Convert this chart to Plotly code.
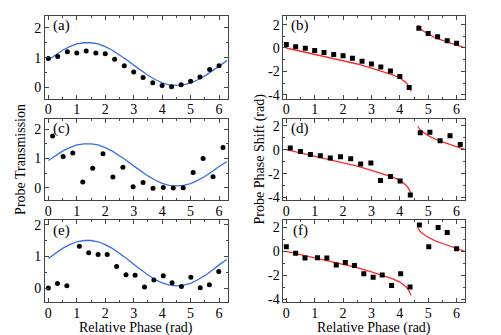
import plotly.graph_objects as go

# ---- data ----
a_x = [0, 0.33, 0.67, 1.0, 1.33, 1.67, 2.0, 2.33, 2.67, 3.0, 3.33, 3.67, 4.0, 4.33, 4.67, 5.0, 5.33, 5.67, 6.0]
a_y = [0.97, 1.04, 1.2, 1.16, 1.22, 1.16, 1.13, 0.95, 0.73, 0.52, 0.34, 0.16, 0.07, 0.03, 0.09, 0.21, 0.35, 0.6, 0.73]

b_x = [0, 0.33, 0.67, 1.0, 1.33, 1.67, 2.0, 2.33, 2.67, 3.0, 3.33, 3.67, 4.0, 4.33, 4.67, 5.0, 5.33, 5.67, 6.0]
b_y = [0.3, 0.11, -0.03, -0.22, -0.39, -0.55, -0.66, -0.88, -1.13, -1.38, -1.63, -1.96, -2.43, -3.39, 1.68, 1.24, 0.97, 0.61, 0.41]

c_x = [0.15, 0.52, 0.86, 1.21, 1.56, 1.92, 2.27, 2.62, 2.98, 3.33, 3.68, 4.04, 4.39, 4.74, 5.09, 5.44, 5.79, 6.14]
c_y = [1.76, 1.07, 1.19, 0.2, 0.67, 1.16, 0.37, 0.7, 0.04, 0.19, -0.01, 0.02, 0.0, 0.01, 0.53, 1.0, 0.38, 1.37]

d_x = [0.14, 0.5, 0.85, 1.2, 1.55, 1.91, 2.27, 2.62, 2.98, 3.32, 3.67, 4.01, 4.37, 4.72, 5.06, 5.42, 5.77, 6.13]
d_y = [0.15, -0.14, -0.4, -0.51, -0.7, -0.59, -0.76, -1.19, -1.11, -2.57, -2.24, -2.62, -3.78, 1.43, 1.46, 0.76, 1.16, 0.43]

e_x = [0, 0.32, 0.65, 1.09, 1.42, 1.75, 2.07, 2.4, 2.73, 3.05, 3.38, 3.71, 4.04, 4.35, 4.68, 5.01, 5.34, 5.66, 5.99]
e_y = [0, 0.14, 0.07, 1.32, 1.11, 1.06, 1.06, 0.68, 0.42, 0.4, 0.03, 0.25, 0.39, 0.17, 0.05, 0.34, 0.01, 0.1, 0.52]

f_x = [0, 0.33, 0.66, 1.1, 1.43, 1.76, 2.08, 2.4, 2.73, 3.06, 3.38, 3.71, 4.03, 4.36, 4.69, 5.02, 5.35, 5.67, 6.0]
f_y = [0.38, -0.16, -0.56, -0.54, -0.56, -1.15, -0.94, -1.18, -1.88, -2.17, -1.98, -2.87, -1.88, -2.98, 2.2, 0.38, 2.01, 1.58, 0.21]

# theory curves
trans_x = [0, 0.25, 0.5, 0.75, 1.0, 1.25, 1.5, 1.75, 2.0, 2.25, 2.5, 2.75, 3.0, 3.25,
           3.5, 3.75, 4.0, 4.25, 4.5, 4.75, 5.0, 5.25, 5.5, 5.75, 6.0, 6.28]
trans_y = [0.93, 1.10, 1.25, 1.37, 1.46, 1.50, 1.50, 1.46, 1.37, 1.25, 1.10, 0.93, 0.75, 0.57,
           0.41, 0.27, 0.16, 0.09, 0.07, 0.09, 0.15, 0.26, 0.39, 0.55, 0.73, 0.90]

phase_x = [0, 0.5, 1.0, 1.5, 2.0, 2.5, 3.0, 3.25, 3.5, 3.75, 4.0, 4.1, 4.2, 4.3, 4.4, None,
           4.63, 4.75, 5.0, 5.25, 5.5, 5.75, 6.0, 6.28]
phase_y = [0, -0.27, -0.53, -0.8, -1.07, -1.37, -1.72, -1.9, -2.08, -2.3, -2.57, -2.72, -2.92, -3.2, -3.7, None,
           1.95, 1.58, 1.18, 0.88, 0.66, 0.45, 0.26, 0.03]

panels = [
    ("a", a_x, a_y, "left"), ("b", b_x, b_y, "right"),
    ("c", c_x, c_y, "left"), ("d", d_x, d_y, "right"),
    ("e", e_x, e_y, "left"), ("f", f_x, f_y, "right"),
]

W, H = 501, 335
FONT = "Liberation Serif"
LINE = "#444444"

xdom = {"left": (36 / W, 219 / W), "right": (275 / W, 457 / W)}
rows = [(5, 90), (111, 194), (215, 299)]
yranges = {"a": [-0.37, 2.4], "c": [-0.4, 2.34], "e": [-0.44, 2.14],
           "b": [-4.33, 2.75], "d": [-4.19, 2.57], "f": [-4.24, 2.61]}

fig = go.Figure()
layout = {}
annotations = []

for i, (lab, px, py, side) in enumerate(panels):
    n = i + 1
    xa = "x" if n == 1 else f"x{n}"
    ya = "y" if n == 1 else f"y{n}"
    row = i // 2
    top, bot = rows[row]
    if side == "left":
        fig.add_trace(go.Scatter(x=trans_x, y=trans_y, mode="lines",
                                 line=dict(color="#3b6fe0", width=1.3),
                                 xaxis=xa, yaxis=ya, showlegend=False, hoverinfo="skip"))
        fig.add_trace(go.Scatter(x=px, y=py, mode="markers",
                                 marker=dict(symbol="circle", size=5, color="black"),
                                 xaxis=xa, yaxis=ya, showlegend=False))
    else:
        fig.add_trace(go.Scatter(x=phase_x, y=phase_y, mode="lines",
                                 line=dict(color="#ff2a2a", width=1.3),
                                 xaxis=xa, yaxis=ya, showlegend=False, hoverinfo="skip",
                                 connectgaps=False))
        fig.add_trace(go.Scatter(x=px, y=py, mode="markers",
                                 marker=dict(symbol="square", size=5, color="black"),
                                 xaxis=xa, yaxis=ya, showlegend=False))

    xkey = "xaxis" if n == 1 else f"xaxis{n}"
    ykey = "yaxis" if n == 1 else f"yaxis{n}"
    xrange = [-0.12, 6.3] if side == "left" else [-0.1, 6.3]
    layout[xkey] = dict(
        domain=list(xdom[side]), anchor=ya, range=xrange,
        tickmode="array", tickvals=[0, 1, 2, 3, 4, 5, 6], ticktext=["0", "1", "2", "3", "4", "5", "6"],
        ticks="inside", ticklen=4, tickcolor=LINE, tickwidth=1,
        minor=dict(ticks="inside", dtick=0.5, ticklen=2, tickcolor=LINE, showgrid=False),
        showline=True, linecolor=LINE, linewidth=1, mirror="allticks",
        showgrid=False, zeroline=False, ticklabelstandoff=-2,
        tickfont=dict(family=FONT, size=14, color="black"),
    )
    if side == "left":
        ytv = [0, 1, 2]
        ymin = 0.5
    else:
        ytv = [-4, -2, 0, 2]
        ymin = 1
    layout[ykey] = dict(
        domain=[1 - bot / H, 1 - top / H], anchor=xa, range=yranges[lab],
        tickmode="array", tickvals=ytv, ticktext=[str(v) for v in ytv],
        ticks="inside", ticklen=4, tickcolor=LINE, tickwidth=1,
        minor=dict(ticks="inside", dtick=ymin, ticklen=2, tickcolor=LINE, showgrid=False),
        showline=True, linecolor=LINE, linewidth=1, mirror="allticks",
        showgrid=False, zeroline=False,
        tickfont=dict(family=FONT, size=14, color="black"),
    )
    annotations.append(dict(text=f"({lab})", xref=f"{xa} domain", yref=f"{ya} domain",
                            x=0.093, y=0.88, xanchor="center", yanchor="middle",
                            showarrow=False, font=dict(family=FONT, size=15, color="black")))

annotations += [
    dict(text="Probe Transmission", xref="paper", yref="paper", x=12 / W, y=1 - 152 / H,
         textangle=-90, showarrow=False, xanchor="center", yanchor="middle",
         font=dict(family=FONT, size=14, color="black")),
    dict(text="Probe Phase Shift (rad)", xref="paper", yref="paper", x=251 / W, y=1 - 152 / H,
         textangle=-90, showarrow=False, xanchor="center", yanchor="middle",
         font=dict(family=FONT, size=14, color="black")),
    dict(text="Relative Phase (rad)", xref="paper", yref="paper", x=127 / W, y=1 - 326 / H,
         showarrow=False, xanchor="center", yanchor="middle",
         font=dict(family=FONT, size=14, color="black")),
    dict(text="Relative Phase (rad)", xref="paper", yref="paper", x=366 / W, y=1 - 326 / H,
         showarrow=False, xanchor="center", yanchor="middle",
         font=dict(family=FONT, size=14, color="black")),
]

fig.update_layout(
    width=W, height=H, margin=dict(l=0, r=0, t=0, b=0),
    paper_bgcolor="white", plot_bgcolor="white",
    annotations=annotations, **layout,
)

fig.write_html("out.html")
